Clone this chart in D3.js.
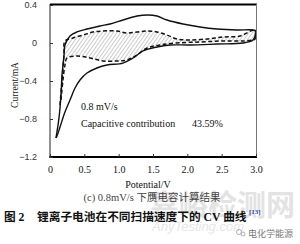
<!DOCTYPE html>
<html><head><meta charset="utf-8">
<script src="https://cdn.jsdelivr.net/npm/d3@7"></script>
<style>html,body{margin:0;padding:0;background:#fff;}svg{display:block;}</style>
</head><body>
<svg id="c" width="300" height="244"></svg>
<script>
// ---- data (potential V, current mA) ----
const outerUpper = [[0.087,-1.0],[0.131,-0.789],[0.160,-0.547],[0.175,-0.337],[0.189,-0.232],[0.204,-0.126],[0.218,-0.021],[0.291,0.074],[0.393,0.116],[0.539,0.147],[0.728,0.179],[0.874,0.2],[1.063,0.242],[1.267,0.284],[1.427,0.295],[1.558,0.284],[1.704,0.242],[1.937,0.2],[2.184,0.168],[2.432,0.147],[2.723,0.137],[2.956,0.137],[3.0,0.126]];
const outerLower = [[0.087,-1.0],[0.102,-0.979],[0.146,-0.884],[0.218,-0.726],[0.291,-0.6],[0.364,-0.474],[0.437,-0.389],[0.539,-0.316],[0.684,-0.263],[0.830,-0.232],[1.063,-0.211],[1.209,-0.158],[1.354,-0.084],[1.558,-0.042],[1.748,-0.021],[2.039,-0.021],[2.432,-0.011],[2.81,0.0],[2.956,0.032],[3.0,0.105]];
const capUpper = [[0.146,-0.653],[0.175,-0.389],[0.204,-0.126],[0.218,0.021],[0.335,0.053],[0.481,0.084],[0.626,0.116],[0.772,0.126],[0.976,0.126],[1.121,0.105],[1.267,0.116],[1.413,0.126],[1.558,0.116],[1.704,0.084],[1.849,0.042],[2.039,0.032],[2.286,0.042],[2.519,0.063],[2.767,0.074],[2.956,0.137],[2.99,0.14]];
const capLower = [[0.160,-0.6],[0.189,-0.389],[0.218,-0.232],[0.248,-0.158],[0.393,-0.137],[0.583,-0.158],[0.772,-0.189],[0.976,-0.189],[1.121,-0.179],[1.267,-0.126],[1.413,-0.053],[1.602,-0.021],[1.849,0.0],[2.184,0.011],[2.519,0.021],[2.81,0.021],[2.956,0.032],[2.99,0.04]];
const xTicks = [0,0.5,1.0,1.5,2.0,2.5,3.0];
const xTickLabels = ["0","0.5","1.0","1.5","2.0","2.5","3.0"];
const yTicks = [0.4,0,-0.4,-0.8,-1.2];
const yTickLabels = ["0.4","0","\u22120.4","\u22120.8","\u22121.2"];

const svg = d3.select("#c");
const x = d3.scaleLinear().domain([0,3]).range([50,256]);
const y = d3.scaleLinear().domain([-1.2,0.4]).range([157,5]);

// watermark
svg.append("text").attr("x",150).attr("y",216).attr("font-family","Noto Sans CJK SC").attr("font-weight","bold")
  .attr("font-size",29).attr("fill","#e3e3e3").text("嘉峪检测网");
svg.append("text").attr("x",152).attr("y",231).attr("font-family","Liberation Sans").attr("font-style","italic")
  .attr("font-size",13).attr("fill","#e6e6e6").text("AnyTesting.com");

// hatch pattern
const defs = svg.append("defs");
const pat = defs.append("pattern").attr("id","hatch").attr("patternUnits","userSpaceOnUse")
  .attr("width",3).attr("height",3).attr("patternTransform","rotate(35)");
pat.append("line").attr("x1",0).attr("y1",0).attr("x2",0).attr("y2",3).attr("stroke","#9a9a9a").attr("stroke-width",1);

const line = d3.line().x(d=>x(d[0])).y(d=>y(d[1])).curve(d3.curveCatmullRom.alpha(0.5));

// hatched capacitive area
const poly = capUpper.concat(capLower.slice().reverse());
svg.append("path").attr("d", d3.line().x(d=>x(d[0])).y(d=>y(d[1])).curve(d3.curveCatmullRomClosed.alpha(0.5))(poly))
  .attr("fill","url(#hatch)").attr("stroke","none");

// dashed capacitive curves
[capUpper, capLower].forEach(s=>{
  svg.append("path").attr("d",line(s)).attr("fill","none").attr("stroke","#111")
    .attr("stroke-width",1.5).attr("stroke-dasharray","4,2.5");
});
svg.append("line").attr("x1",x(2.99)).attr("x2",x(2.99)).attr("y1",y(0.14)).attr("y2",y(0.04))
  .attr("stroke","#111").attr("stroke-width",1.2);

// outer CV curve
[outerUpper, outerLower].forEach(s=>{
  svg.append("path").attr("d",line(s)).attr("fill","none").attr("stroke","#111").attr("stroke-width",1.4);
});

// frame
svg.append("line").attr("x1",50).attr("x2",257).attr("y1",4.5).attr("y2",4.5).attr("stroke","#000").attr("stroke-width",2);
svg.append("line").attr("x1",256.5).attr("x2",256.5).attr("y1",4).attr("y2",157).attr("stroke","#777").attr("stroke-width",1);
svg.append("line").attr("x1",50).attr("x2",50).attr("y1",4).attr("y2",158).attr("stroke","#222").attr("stroke-width",1);
svg.append("line").attr("x1",49.5).attr("x2",257).attr("y1",157).attr("y2",157).attr("stroke","#000").attr("stroke-width",1.8);

// axes ticks
const xAxis = d3.axisBottom(x).tickValues(xTicks).tickFormat((d,i)=>xTickLabels[i]).tickSize(-3).tickPadding(9);
const gx = svg.append("g").attr("transform","translate(0,157)").call(xAxis);
gx.select(".domain").remove();
gx.selectAll("line").attr("stroke","#333");
gx.selectAll("text").attr("font-family","Liberation Serif").attr("font-size",10).attr("fill","#111");

const yAxis = d3.axisLeft(y).tickValues(yTicks).tickFormat((d,i)=>yTickLabels[i]).tickSize(-3).tickPadding(13);
const gy = svg.append("g").attr("transform","translate(50,0)").call(yAxis);
gy.select(".domain").remove();
gy.selectAll("line").attr("stroke","#333");
gy.selectAll("text").attr("font-family","Liberation Sans").attr("font-size",9).attr("fill","#333");

// axis titles
svg.append("text").attr("transform","translate(18,85) rotate(-90)").attr("text-anchor","middle")
  .attr("font-family","Liberation Serif").attr("font-size",9.5).attr("fill","#222").text("Current/mA");
svg.append("text").attr("x",148).attr("y",187.5).attr("text-anchor","middle")
  .attr("font-family","Liberation Serif").attr("font-size",10).attr("fill","#111").text("Potential/V");

// annotations
svg.append("text").attr("x",81).attr("y",109.5).attr("font-family","Liberation Serif").attr("font-size",10).attr("fill","#111").text("0.8 mV/s");
svg.append("text").attr("x",81).attr("y",126.5).attr("font-family","Liberation Serif").attr("font-size",10).attr("fill","#111").text("Capacitive contribution");
svg.append("text").attr("x",192).attr("y",126.5).attr("font-family","Liberation Serif").attr("font-size",10).attr("fill","#111").text("43.59%");

// subcaption
svg.append("text").attr("x",152).attr("y",200.5).attr("text-anchor","middle")
  .attr("font-family","Liberation Serif, Noto Sans CJK SC").attr("font-size",10.5).attr("fill","#444").text("(c) 0.8mV/s 下赝电容计算结果");

// main caption
svg.append("text").attr("x",4).attr("y",220.5).attr("font-family","Liberation Serif, Noto Sans CJK SC").attr("font-weight","bold")
  .attr("font-size",11.7).attr("fill","#111").text("图 2");
svg.append("text").attr("x",37).attr("y",220.5).attr("font-family","Liberation Serif, Noto Sans CJK SC").attr("font-weight","bold")
  .attr("font-size",11.7).attr("fill","#111").text("锂离子电池在不同扫描速度下的 CV 曲线");
svg.append("text").attr("x",249).attr("y",213.5).attr("font-family","Liberation Serif").attr("font-weight","bold")
  .attr("font-size",7).attr("fill","#2a3f9a").text("[13]");

// source mark
svg.append("circle").attr("cx",239).attr("cy",232).attr("r",2.5).attr("fill","none").attr("stroke","#999").attr("stroke-width",0.8);
svg.append("circle").attr("cx",243).attr("cy",234).attr("r",2).attr("fill","none").attr("stroke","#999").attr("stroke-width",0.8);
svg.append("text").attr("x",248).attr("y",237).attr("font-family","Noto Sans CJK SC").attr("font-size",9).attr("fill","#777").text("电化学能源");
</script>
</body></html>
